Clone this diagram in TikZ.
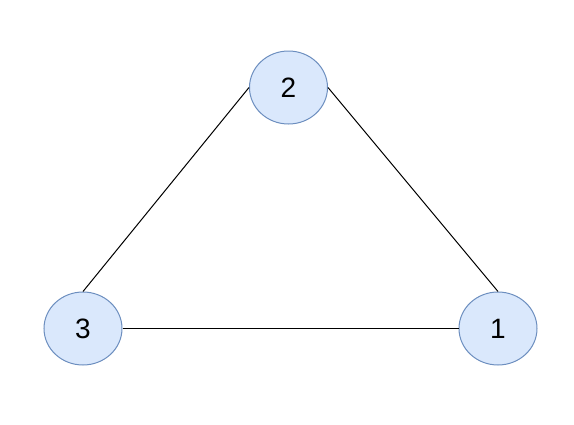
\documentclass[tikz,border=0pt]{standalone}
\usepackage{fontspec}
\setmainfont{Liberation Sans}
\usetikzlibrary{shapes.geometric}
\definecolor{nfill}{HTML}{DAE8FC}
\definecolor{ndraw}{HTML}{6C8EBF}
\begin{document}
\begin{tikzpicture}[x=1pt,y=-1pt,
  vert/.style={ellipse,draw=ndraw,fill=nfill,line width=1pt,minimum width=78pt,minimum height=73pt,inner sep=0pt,font=\fontsize{28}{30}\selectfont},
  edge/.style={draw=black,line width=1pt}]
\useasboundingbox (0,0) rectangle (574,424);
\node[vert] (n2) at (288.5,87.5) {2};
\node[vert] (n3) at (83,328.5) {3};
\node[vert] (n1) at (498,328.5) {1};
\draw[edge] (n2.west) -- (n3.north);
\draw[edge] (n2.east) -- (n1.north);
\draw[edge] (n3.east) -- (n1.west);
\end{tikzpicture}
\end{document}
